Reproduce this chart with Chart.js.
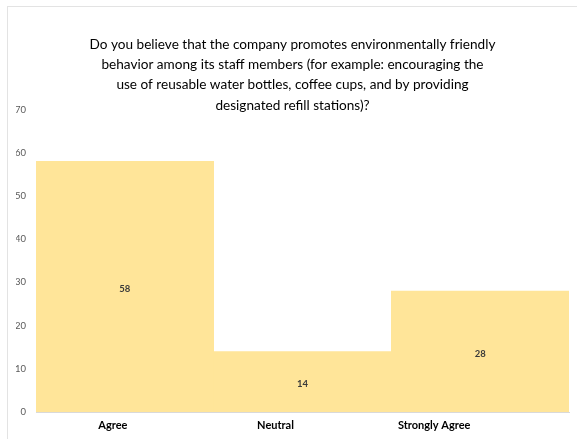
<!DOCTYPE html>
<html>
<head>
<meta charset="utf-8">
<script src="https://cdn.jsdelivr.net/npm/chart.js@4/dist/chart.umd.min.js"></script>
<style>
  html, body { margin: 0; padding: 0; background: #fff; }
  #wrap { position: relative; width: 577px; height: 439px; }
  #frame { position: absolute; left: 7px; top: 6px; right: 0; bottom: 0;
           border-left: 1.5px solid #e3e3e3; border-top: 1.5px solid #e3e3e3; }
  canvas { position: absolute; left: 0; top: 0; }
</style>
</head>
<body>
<div id="wrap">
  <div id="frame"></div>
  <canvas id="surveyChart" width="577" height="439"></canvas>
</div>
<script>
// survey answers
const categories = ["Agree", "Neutral", "Strongly Agree"];
const responses = [58, 14, 28];
const yTicks = [0, 10, 20, 30, 40, 50, 60, 70];
const titleLines = [
    "Do you believe that the company promotes environmentally friendly",
    "behavior among its staff members (for example: encouraging the",
    "use of reusable water bottles, coffee cups, and by providing",
    "designated refill stations)?"
];

// category captions sit a little left of their bar centres
const captionShift = [-12, -27, -46];

const barLabels = {
    id: 'barLabels',
    afterDatasetsDraw(chart) {
        const ctx = chart.ctx;
        const meta = chart.getDatasetMeta(0);
        ctx.save();
        ctx.font = 'bold 9.5px Lato';
        ctx.fillStyle = '#3a3a3a';
        ctx.textAlign = 'center';
        ctx.textBaseline = 'middle';
        meta.data.forEach((bar, i) => {
            ctx.fillText(String(responses[i]), bar.x, (bar.y + bar.base) / 2 + 2);
        });
        ctx.restore();
    }
};

const categoryCaptions = {
    id: 'categoryCaptions',
    afterDraw(chart) {
        const ctx = chart.ctx;
        const x = chart.scales.x;
        ctx.save();
        ctx.font = 'bold 11px Lato';
        ctx.fillStyle = '#000';
        ctx.textAlign = 'center';
        ctx.textBaseline = 'middle';
        categories.forEach((name, i) => {
            ctx.fillText(name, x.getPixelForTick(i) + captionShift[i], 425);
        });
        ctx.restore();
    }
};

const ctx = document.getElementById('surveyChart').getContext('2d');
const surveyChart = new Chart(ctx, {
    type: 'bar',
    data: {
        labels: categories,
        datasets: [{
            data: responses,
            backgroundColor: 'rgb(255, 229, 153)',
            borderWidth: 0,
            barPercentage: 1,
            categoryPercentage: 1
        }]
    },
    options: {
        responsive: false,
        animation: false,
        layout: { padding: { left: 16, right: 8, top: 0, bottom: 1 } },
        plugins: {
            legend: { display: false },
            tooltip: { enabled: false },
            title: {
                display: true,
                text: titleLines,
                color: '#000',
                font: { family: 'Lato', size: 13.6, weight: 'normal', lineHeight: 1.5 },
                padding: { top: 34, bottom: -6 }
            }
        },
        scales: {
            x: {
                grid: { display: false, drawTicks: false },
                border: { display: true, color: '#d9d9d9', width: 1 },
                ticks: { color: 'transparent', font: { family: 'Lato', size: 10, weight: 'bold' }, padding: 7 }
            },
            y: {
                min: 0,
                max: 70,
                afterBuildTicks(scale) {
                    scale.ticks = yTicks.map(v => ({ value: v }));
                },
                afterFit(scale) {
                    scale.width = 20;
                },
                grid: { display: false, drawTicks: false },
                border: { display: false },
                ticks: { color: '#595959', font: { family: 'Lato', size: 9.5 }, padding: 10 }
            }
        }
    },
    plugins: [barLabels, categoryCaptions]
});
</script>
</body>
</html>
